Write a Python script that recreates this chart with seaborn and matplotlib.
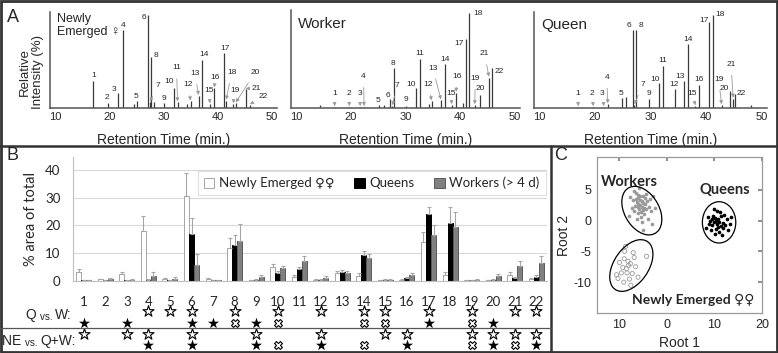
import numpy as np
import pandas as pd
import seaborn as sns
import matplotlib.pyplot as plt
from matplotlib.patches import Ellipse, Rectangle, Patch
from matplotlib.lines import Line2D
from matplotlib.container import BarContainer

sns.set_theme(style='white')
plt.rcParams['font.family'] = ['Liberation Sans', 'DejaVu Sans']
CAL = ['Lato', 'DejaVu Sans']

# ---- panel A: chromatogram peaks (retention time, relative intensity) ----
ne_rt = [17.0, 19.7, 21.6, 22.5, 25.1, 27.1, 27.5, 27.7, 30.1, 32.0, 32.6,
         35.0, 36.5, 37.2, 38.6, 39.4, 41.2, 41.6, 42.9, 43.4, 45.2, 46.0]
ne_ht = [29, 5, 16, 84, 7, 100, 6, 55, 5, 21, 6, 7, 13, 52, 4, 21, 59, 8, 4, 5, 20, 3]
ne_extra_rt = [24.6, 28.2, 34.4]
ne_extra_ht = [4, 6, 4]

w_rt = [17.0, 19.7, 21.7, 22.4, 25.2, 27.1, 27.6, 27.8, 30.0, 32.0, 32.7,
        34.8, 36.5, 37.3, 38.5, 39.3, 41.1, 41.7, 42.7, 43.6, 45.3, 45.8]
w_ht = [1, 1, 1, 1, 3, 9, 2, 42, 2, 21, 51, 7, 8, 46, 3, 16, 72, 100, 3, 14, 32, 42]
w_extra_rt = [14.4, 26.0, 34.3, 40.6]
w_extra_ht = [3, 3, 4, 5]

q_rt = [17.0, 19.7, 21.6, 22.3, 24.8, 26.8, 27.1, 27.4, 29.7, 31.6, 32.2,
        34.4, 36.1, 36.8, 38.1, 38.7, 40.6, 41.2, 42.8, 44.4, 44.9, 45.2]
q_ht = [1, 1, 1, 4, 11, 84, 3, 84, 10, 27, 45, 20, 29, 69, 2, 25, 92, 100, 3, 18, 10, 15]
q_extra_rt = [25.5, 48.2]
q_extra_ht = [12, 3]

# label placement (layout)
ne_lab = [(17.0, 35), (19.6, 11), (20.9, 20), (22.5, 89), (25.0, 12), (26.4, 97),
          (28.9, 24), (28.6, 56), (30.1, 10), (31.1, 28), (32.4, 43), (34.6, 25),
          (35.8, 37), (37.5, 57), (38.4, 19), (39.6, 33), (41.3, 64), (42.6, 38),
          (43.3, 19), (46.9, 38), (47.2, 21), (48.4, 12)]
ne_arrows = [7, 11, 12, 13, 15, 16, 18, 19, 20, 21, 22]
w_lab = [(17.0, 15), (19.6, 15), (21.6, 15), (22.3, 33), (24.9, 8), (26.8, 13),
         (28.5, 24), (27.7, 47), (30.0, 9), (31.0, 25), (32.6, 57), (34.1, 25),
         (35.0, 42), (37.3, 51), (38.3, 15), (39.4, 33), (39.8, 68), (43.3, 99),
         (42.8, 31), (43.7, 20), (44.5, 57), (47.1, 38)]
w_arrows = [1, 2, 3, 4, 7, 12, 13, 15, 16, 19, 21]
q_lab = [(16.8, 16), (19.4, 16), (21.3, 16), (22.1, 33), (24.7, 16), (26.2, 88),
         (28.6, 25), (28.2, 88), (29.7, 16), (30.8, 31), (32.2, 51), (34.3, 25),
         (35.3, 34), (36.7, 73), (37.5, 16), (38.8, 31), (39.6, 94), (42.6, 100),
         (42.3, 31), (43.3, 21), (44.5, 47), (46.3, 16)]
q_arrows = [1, 2, 3, 4, 7, 15, 19, 21]

# ---- panel B: % area of total ----
compounds = [str(i) for i in range(1, 23)]
ne_mean = [3.4, 0.6, 2.4, 18.0, 0.6, 30.7, 0.6, 12.0, 0.3, 4.9, 1.3, 0.5, 3.0, 1.8, 0.2, 0.4, 13.9, 2.2, 0.2, 0.3, 2.2, 0.6]
ne_top = [4.3, 0.8, 3.2, 23.4, 0.9, 38.7, 0.9, 15.4, 0.5, 6.1, 2.0, 0.7, 3.7, 2.7, 0.3, 0.6, 17.7, 3.1, 0.3, 0.5, 3.1, 0.9]
q_mean = [0.2, 0.3, 0.2, 0.4, 0.3, 16.9, 0.3, 13.0, 0.4, 3.0, 4.3, 0.4, 3.2, 9.2, 0.4, 1.0, 24.0, 20.7, 0.2, 0.5, 1.0, 1.6]
q_top = [0.3, 0.5, 0.3, 0.6, 0.5, 22.5, 0.5, 16.5, 0.6, 3.6, 5.2, 0.6, 3.8, 10.8, 0.6, 1.4, 26.5, 26.7, 0.3, 0.8, 1.3, 2.1]
w_mean = [0.2, 0.6, 0.4, 1.8, 0.8, 5.6, 0.3, 14.5, 1.3, 4.5, 7.3, 1.2, 3.0, 8.2, 0.5, 2.2, 16.5, 19.3, 0.4, 1.8, 5.4, 6.5]
w_top = [0.3, 0.9, 0.6, 3.1, 1.5, 9.7, 0.5, 20.5, 2.0, 5.3, 9.0, 1.8, 3.7, 9.7, 0.8, 2.8, 20.1, 24.7, 0.6, 2.6, 7.2, 9.0]
groups = ['Newly Emerged ♀♀', 'Queens', 'Workers (> 4 d)']

# significance: 0 none, 1 open star, 2 filled star, 3 crossed symbol
qw_row1 = [0, 0, 0, 1, 1, 1, 0, 1, 0, 1, 0, 1, 0, 1, 1, 0, 1, 0, 1, 0, 1, 1]
qw_row2 = [2, 0, 2, 0, 0, 2, 2, 3, 2, 3, 0, 0, 0, 3, 3, 0, 2, 0, 3, 2, 0, 0]
ne_row1 = [1, 0, 1, 1, 0, 1, 0, 0, 1, 0, 0, 1, 0, 0, 1, 1, 0, 0, 1, 1, 1, 1]
ne_row2 = [0, 0, 0, 2, 0, 2, 0, 0, 2, 3, 0, 2, 0, 3, 0, 2, 0, 0, 3, 2, 3, 2]

# ---- panel C: discriminant roots ----
wk_x = [-5.5, -5.0, -6.0, -5.2, -4.8, -6.3, -5.7, -4.5, -5.9, -5.3, -6.6, -4.2, -5.0, -6.1, -4.7,
        -5.6, -7.0, -3.8, -5.4, -6.8, -4.4, -6.4, -3.5, -7.3, -5.1, -4.0, -6.9, -5.8, -3.2, -7.6,
        -4.9, -2.5, -6.2, -5.5, -4.6, -5.9, -5.2, -4.3, -6.5, -3.0, -7.8, -2.8, -5.0, -6.0]
wk_y = [2.5, 2.8, 2.2, 3.2, 2.0, 3.0, 1.8, 2.6, 3.6, 1.4, 2.4, 3.1, 4.0, 1.2, 1.0,
        3.9, 3.3, 2.2, 0.6, 1.6, 4.3, 4.5, 3.5, 2.0, -0.2, 0.3, 4.8, 5.2, 1.5, 3.8,
        -1.6, 2.0, 0.2, 3.3, 3.6, 2.7, 2.2, 1.8, 3.5, -0.5, 0.8, 4.0, 1.7, 4.2]
qn_x = [10.0, 10.5, 11.0, 10.2, 9.6, 11.4, 10.8, 9.2, 11.8, 10.4, 9.8, 12.3, 10.9, 8.9, 11.2, 10.6,
        12.6, 9.4, 13.2, 8.6, 11.6, 10.1, 12.9, 9.9, 11.3, 10.7, 13.6, 8.3, 10.3, 11.9, 9.5, 12.0]
qn_y = [-0.3, -0.6, -0.2, 0.4, -0.8, -0.9, 0.2, 0.0, -0.4, -1.3, 0.8, -0.8, -1.8, -0.5, 1.4, 1.6,
        0.3, -1.5, -0.6, 0.6, -2.4, -2.2, -1.6, 1.8, 0.7, -1.0, 0.5, -1.2, -0.1, -1.2, 0.3, 0.9]
nw_x = [-8.0, -8.4, -7.6, -8.9, -7.2, -9.5, -8.8, -10.2, -7.8, -6.5, -9.2, -4.2, -8.6, -6.8,
        -9.9, -10.5, -7.5, -6.0, -8.3, -7.0, -9.0, -8.1]
nw_y = [-7.3, -7.8, -7.0, -6.2, -8.6, -8.5, -5.0, -9.4, -9.5, -7.5, -7.6, -5.8, -4.2, -6.0,
        -6.8, -8.8, -10.5, -9.2, -8.5, -5.2, -10.0, -6.6]

W, H = 778, 353
fig = plt.figure(figsize=(W / 100, H / 100), dpi=100)


def rect(l, t, r, b):
    return [l / W, 1 - b / H, (r - l) / W, (b - t) / H]


def ftext(x, y, s, **kw):
    return fig.text(x / W, 1 - y / H, s, **kw)


def fline(x0, y0, x1, y1, lw=1.5, color='#333333'):
    fig.add_artist(Line2D([x0 / W, x1 / W], [1 - y0 / H, 1 - y1 / H],
                          transform=fig.transFigure, lw=lw, color=color))


def chrom(rect_px, rt, ht, lab, arrows, ex_rt, ex_ht, title, tsize):
    ax = fig.add_axes(rect(*rect_px))
    ax.vlines(rt + ex_rt, 0, ht + ex_ht, color='#3a3a3a', lw=0.9)
    for i, (t, h) in enumerate(zip(rt, ht)):
        lx, ly = lab[i]
        if i + 1 in arrows:
            ax.annotate(str(i + 1), xy=(t, h + 1), xytext=(lx, ly), ha='center', va='center',
                        fontsize=6, annotation_clip=False,
                        arrowprops=dict(arrowstyle='-|>', color='#9a9a9a', lw=0.6,
                                        shrinkA=3, shrinkB=0, mutation_scale=5))
        else:
            ax.text(lx, ly, str(i + 1), ha='center', va='center', fontsize=6)
    ax.set_xlim(9, 51)
    ax.set_ylim(0, 103)
    ax.set_xticks([10, 20, 30, 40, 50])
    ax.set_yticks([])
    ax.tick_params(axis='x', labelsize=8, length=2, direction='in', pad=3, color='#555555')
    for s in ['top', 'right']:
        ax.spines[s].set_visible(False)
    for s in ['left', 'bottom']:
        ax.spines[s].set_color('#555555')
        ax.spines[s].set_linewidth(1.1)
    ax.set_xlabel('Retention Time (min.)', fontsize=10, labelpad=8)
    ax.text(0.03, 0.86, title, transform=ax.transAxes, fontsize=tsize, va='center', ha='left')
    return ax


ax_ne = chrom((50, 12, 277, 108), ne_rt, ne_ht, ne_lab, ne_arrows, ne_extra_rt, ne_extra_ht,
              'Newly\nEmerged ♀', 9)
ax_ne.set_ylabel('Relative\nIntensity (%)', fontsize=9.5, labelpad=4)
ax_ne.yaxis.label.set_y(0.38)
chrom((291, 10, 520, 108), w_rt, w_ht, w_lab, w_arrows, w_extra_rt, w_extra_ht, 'Worker', 11)
chrom((534, 12, 767, 108), q_rt, q_ht, q_lab, q_arrows, q_extra_rt, q_extra_ht, 'Queen', 11)

# ---- panel B bars ----
df = pd.DataFrame({
    'compound': compounds * 3,
    'value': ne_mean + q_mean + w_mean,
    'group': [groups[0]] * 22 + [groups[1]] * 22 + [groups[2]] * 22,
})
face = {groups[0]: 'white', groups[1]: 'black', groups[2]: '#808080'}
edge = ['#a6a6a6', 'black', '#5a5a5a']
tops = [ne_top, q_top, w_top]
means = [ne_mean, q_mean, w_mean]

ax_b = fig.add_axes(rect(73, 157, 547, 281))
sns.barplot(data=df, x='compound', y='value', hue='group', order=compounds, hue_order=groups,
            palette=face, saturation=1, width=0.7, errorbar=None, legend=False, ax=ax_b)
bar_conts = [c for c in ax_b.containers if isinstance(c, BarContainer)]
for k, cont in enumerate(bar_conts):
    xs = []
    for bar in cont:
        bar.set_edgecolor(edge[k])
        bar.set_linewidth(0.7)
        xs.append(bar.get_x() + bar.get_width() / 2)
    up = np.array(tops[k]) - np.array(means[k])
    ax_b.errorbar(xs, means[k], yerr=[np.zeros(22), up], fmt='none', ecolor='#a6a6a6',
                  elinewidth=0.8, capsize=1.5, capthick=0.8)
ax_b.set_xlim(-0.5, 21.5)
ax_b.set_ylim(0, 44.6)
ax_b.set_yticks([0, 10, 20, 30, 40])
ax_b.yaxis.grid(True, color='#d9d9d9', lw=0.8)
ax_b.set_axisbelow(True)
ax_b.set_xticks(np.arange(-0.5, 22, 1), minor=True)
ax_b.tick_params(axis='x', which='major', length=0, pad=11, labelsize=9.5)
ax_b.tick_params(axis='x', which='minor', length=4, color='#bfbfbf', direction='out', width=0.8)
ax_b.tick_params(axis='y', length=0, pad=9, labelsize=9.5)
for lab in ax_b.get_xticklabels() + ax_b.get_yticklabels():
    lab.set_family(CAL)
for s in ['top', 'right']:
    ax_b.spines[s].set_visible(False)
for s in ['left', 'bottom']:
    ax_b.spines[s].set_color('#bfbfbf')
    ax_b.spines[s].set_linewidth(0.8)
ax_b.set_xlabel('')
ax_b.set_ylabel('% area of total', fontsize=10.5, family=CAL, labelpad=5)
handles = [Patch(fc=face[g], ec=edge[k], lw=0.7, label=g) for k, g in enumerate(groups)]
leg = ax_b.legend(handles=handles, loc='center', bbox_to_anchor=(0.63, 0.79), ncol=3,
                  frameon=True, fancybox=False, framealpha=1, edgecolor='#e0e0e0',
                  prop={'family': CAL, 'size': 9.5}, handlelength=0.8, handleheight=0.8,
                  handletextpad=0.35, columnspacing=1.5, borderpad=0.45)
leg.get_frame().set_linewidth(0.8)

# significance table
ax_s = fig.add_axes(rect(73, 303, 547, 352))
ax_s.set_xlim(-0.5, 21.5)
ax_s.set_ylim(3.65, -0.766)
ax_s.axis('off')
rows = [qw_row1, qw_row2, ne_row1, ne_row2]
for r, row in enumerate(rows):
    row = np.array(row)
    x = np.arange(22)
    m1, m2, m3 = row == 1, row == 2, row == 3
    ax_s.scatter(x[m1], np.full(m1.sum(), r), marker='*', s=70, facecolor='white',
                 edgecolor='black', linewidth=0.8, clip_on=False)
    ax_s.scatter(x[m2], np.full(m2.sum(), r), marker='*', s=70, color='black',
                 linewidth=0, clip_on=False)
    ax_s.scatter(x[m3], np.full(m3.sum(), r), marker='X', s=32, facecolor='white',
                 edgecolor='black', linewidth=0.8, clip_on=False)


def row_label(x, y, parts):
    t = ftext(x, y, parts[-1][0], ha='right', va='center', fontsize=parts[-1][1])
    for s, fs in reversed(parts[:-1]):
        t = ax_s.annotate(s, xy=(0, 0), xycoords=t, ha='right', va='bottom', fontsize=fs,
                          annotation_clip=False)


row_label(72, 315, [('Q ', 10), ('vs. ', 7), ('W:', 10)])
row_label(76, 341, [('NE ', 10), ('vs. ', 7), ('Q+W:', 10)])

# ---- panel C scatter ----
ax_c = fig.add_axes(rect(597, 157, 762, 313))
sns.scatterplot(x=wk_x, y=wk_y, color='#9a9a9a', s=7, linewidth=0, ax=ax_c)
sns.scatterplot(x=qn_x, y=qn_y, color='black', s=7, linewidth=0, ax=ax_c)
ax_c.scatter(nw_x, nw_y, s=9, facecolor='none', edgecolor='#9a9a9a', linewidth=0.6)
ell = [((-5.2, 1.6), 9.5, 6.5, -40), ((11.0, -0.3), 7.0, 6.7, 0), ((-7.4, -7.3), 10.5, 6.5, 40)]
for c, w, h, a in ell:
    ax_c.add_patch(Ellipse(c, w, h, angle=a, fill=False, ec='black', lw=0.9))
ax_c.set_xlim(-14.6, 20)
ax_c.set_ylim(-15, 10.3)
ax_c.set_xticks([-10, 0, 10, 20])
ax_c.set_xticklabels(['10', '0', '10', '20'])
ax_c.set_yticks([5, 0, -5, -10])
ax_c.set_yticklabels(['5', '0', '-5', '-10'])
ax_c.tick_params(labelsize=9, length=3, direction='in', top=True, right=True,
                 color='#808080', pad=4)
for s in ax_c.spines.values():
    s.set_color('#9a9a9a')
    s.set_linewidth(0.9)
ax_c.set_xlabel('Root 1', fontsize=10, labelpad=4)
ax_c.set_ylabel('Root 2', fontsize=10, labelpad=2)
ax_c.text(-7.9, 6.3, 'Workers', fontsize=10.5, weight='bold', family=CAL, ha='center', va='center')
ax_c.text(12.1, 4.95, 'Queens', fontsize=10.5, weight='bold', family=CAL, ha='center', va='center')
ax_c.text(5.6, -12.9, 'Newly Emerged ♀♀', fontsize=10, weight='bold', family=CAL,
          ha='center', va='center')

# ---- panel letters, frame and dividers ----
ftext(13, 18, 'A', fontsize=13, ha='center', va='center')
ftext(13, 156, 'B', fontsize=13, ha='center', va='center')
ftext(561, 156, 'C', fontsize=13, ha='center', va='center')
fig.add_artist(Rectangle((1 / W, 1 / H), (W - 2) / W, (H - 2) / H, transform=fig.transFigure,
                         fill=False, ec='#333333', lw=2))
fline(0, 146, W, 146, lw=1.8)
fline(551, 146, 551, H, lw=1.8)
fline(0, 327.7, 551, 327.7, lw=0.9, color='#555555')

fig.savefig('out.png', dpi=100)
